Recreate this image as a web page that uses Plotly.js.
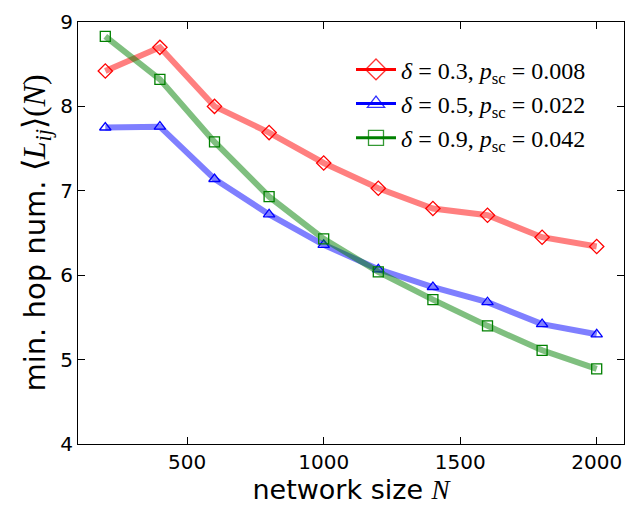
<!DOCTYPE html>
<html>
<head>
<meta charset="utf-8">
<script src="https://cdn.plot.ly/plotly-3.0.1.min.js"></script>
<style>html,body{margin:0;padding:0;background:#fff;}#chart{width:632px;height:506px;}</style>
</head>
<body>
<div id="chart"></div>
<script>
const networkSize = [200, 400, 600, 800, 1000, 1200, 1400, 1600, 1800, 2000];
const hopsDelta03 = [8.42, 8.70, 8.00, 7.69, 7.33, 7.03, 6.79, 6.71, 6.45, 6.34];
const hopsDelta05 = [7.75, 7.76, 7.14, 6.72, 6.36, 6.07, 5.86, 5.68, 5.42, 5.30];
const hopsDelta09 = [8.83, 8.32, 7.58, 6.93, 6.43, 6.04, 5.71, 5.40, 5.11, 4.89];
const seriesNames = [
  '<i>δ</i> = 0.3, <i>p</i><sub>sc</sub> = 0.008',
  '<i>δ</i> = 0.5, <i>p</i><sub>sc</sub> = 0.022',
  '<i>δ</i> = 0.9, <i>p</i><sub>sc</sub> = 0.042'
];
const xTicks = [500, 1000, 1500, 2000];
const yTicks = [4, 5, 6, 7, 8, 9];

const styles = [
  {rgb: '255,0,0', symbol: 'diamond-open', size: 11},
  {rgb: '0,0,255', symbol: 'triangle-up-open', size: 10},
  {rgb: '0,128,0', symbol: 'square-open', size: 10}
];
const ys = [hopsDelta03, hopsDelta05, hopsDelta09];

const traces = [];
ys.forEach((y, i) => {
  const s = styles[i];
  traces.push({
    x: networkSize, y: y, type: 'scatter', mode: 'lines+markers',
    name: seriesNames[i], showlegend: false,
    line: {color: 'rgba(' + s.rgb + ',0.5)', width: 6},
    marker: {symbol: s.symbol, size: s.size, color: 'rgb(' + s.rgb + ')', line: {width: 1.3, color: 'rgb(' + s.rgb + ')'}}
  });
});
ys.forEach((y, i) => {
  const s = styles[i];
  traces.push({
    x: [null], y: [null], type: 'scatter', mode: 'lines+markers',
    name: seriesNames[i], showlegend: true,
    line: {color: 'rgb(' + s.rgb + ')', width: 3},
    marker: {symbol: s.symbol, size: s.size + 5, color: 'rgba(' + s.rgb + ',0.8)', line: {width: 1.3, color: 'rgba(' + s.rgb + ',0.8)'}}
  });
});

const layout = {
  width: 632, height: 506,
  margin: {l: 78, r: 8, t: 22, b: 62},
  paper_bgcolor: '#fff', plot_bgcolor: '#fff',
  showlegend: true,
  legend: {
    x: 0.5, y: 0.94, xanchor: 'left', yanchor: 'top',
    bgcolor: 'rgba(255,255,255,0)', borderwidth: 0,
    font: {family: 'Liberation Serif, DejaVu Serif, serif', size: 24, color: '#000'},
    itemwidth: 40
  },
  xaxis: {
    range: [100, 2100], tickvals: xTicks, ticktext: xTicks.map(String),
    ticks: 'inside', ticklen: 7, tickwidth: 1, tickcolor: '#000',
    showline: true, linecolor: '#000', linewidth: 1, mirror: 'ticks',
    showgrid: false, zeroline: false,
    tickfont: {family: 'DejaVu Sans, sans-serif', size: 20, color: '#000'},
    title: {text: 'network size <span style="font-family:Liberation Serif, serif"><i>N</i></span>',
      font: {family: 'DejaVu Sans, sans-serif', size: 27, color: '#000'}, standoff: 4}
  },
  yaxis: {
    range: [4, 9], tickvals: yTicks, ticktext: yTicks.map(String),
    ticks: 'inside', ticklen: 7, tickwidth: 1, tickcolor: '#000',
    showline: true, linecolor: '#000', linewidth: 1, mirror: 'ticks',
    showgrid: false, zeroline: false,
    tickfont: {family: 'DejaVu Sans, sans-serif', size: 20, color: '#000'},
    title: {text: 'min. hop num. <span style="font-family:Liberation Serif, serif;font-size:32px">⟨<i>L</i><sub><i>ij</i></sub>⟩(<i>N</i>)</span>',
      font: {family: 'DejaVu Sans, sans-serif', size: 29, color: '#000'}, standoff: 6}
  }
};

Plotly.newPlot('chart', traces, layout, {displayModeBar: false, staticPlot: true});
</script>
</body>
</html>
